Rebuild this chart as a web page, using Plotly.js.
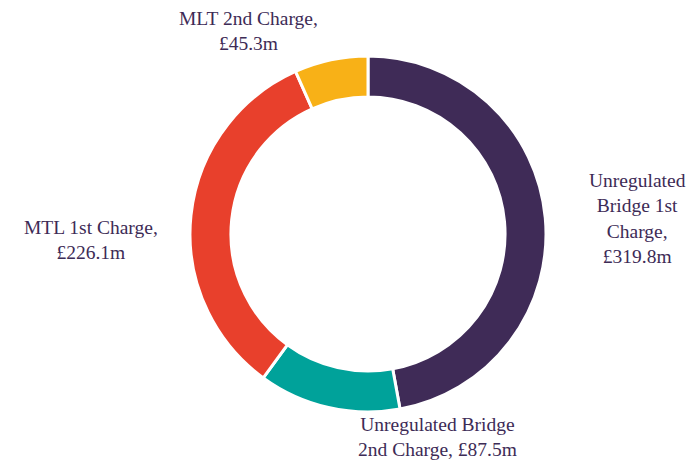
<!DOCTYPE html>
<html><head><meta charset="utf-8">
<script src="https://cdn.plot.ly/plotly-3.0.1.min.js"></script>
<style>html,body{margin:0;padding:0;background:#fff}</style>
</head><body>
<div id="chart" style="width:695px;height:462px"></div>
<script>
const categories = ["Unregulated Bridge 1st Charge", "Unregulated Bridge 2nd Charge", "MTL 1st Charge", "MLT 2nd Charge"];
const values = [319.8, 87.5, 226.1, 45.3];
const labelTexts = ["Unregulated<br>Bridge 1st<br>Charge,<br>£319.8m", "Unregulated Bridge<br>2nd Charge, £87.5m", "MTL 1st Charge,<br>£226.1m", "MLT 2nd Charge,<br>£45.3m"];
const colors = ["#3f2b57", "#00a29a", "#e8402c", "#f8b117"];

const W = 695, H = 462;
const labelPos = [[637, 218], [437, 437], [91, 240], [248, 31]];
const textColor = "#3d2b56";

const annotations = labelTexts.map((t, i) => ({
  text: t, xref: "paper", yref: "paper",
  x: labelPos[i][0] / W, y: 1 - labelPos[i][1] / H,
  xanchor: "center", yanchor: "middle", showarrow: false, align: "center",
  font: {family: "Liberation Serif, Times New Roman, serif", size: 19.5, color: textColor}
}));

const data = [{
  type: "pie", labels: categories, values: values, hole: 0.77,
  sort: false, direction: "clockwise", rotation: 0,
  marker: {colors: colors, line: {color: "#ffffff", width: 3}},
  textinfo: "none", hoverinfo: "label+value",
  domain: {x: [(368 - 178) / W, (368 + 178) / W], y: [(228 - 178) / H, (228 + 178) / H]}
}];

const layout = {
  width: W, height: H, margin: {l: 0, r: 0, t: 0, b: 0},
  font: {family: "Liberation Serif, Times New Roman, serif"},
  showlegend: false, paper_bgcolor: "#ffffff", annotations: annotations
};
Plotly.newPlot("chart", data, layout, {displayModeBar: false, staticPlot: true});
</script>
</body></html>
